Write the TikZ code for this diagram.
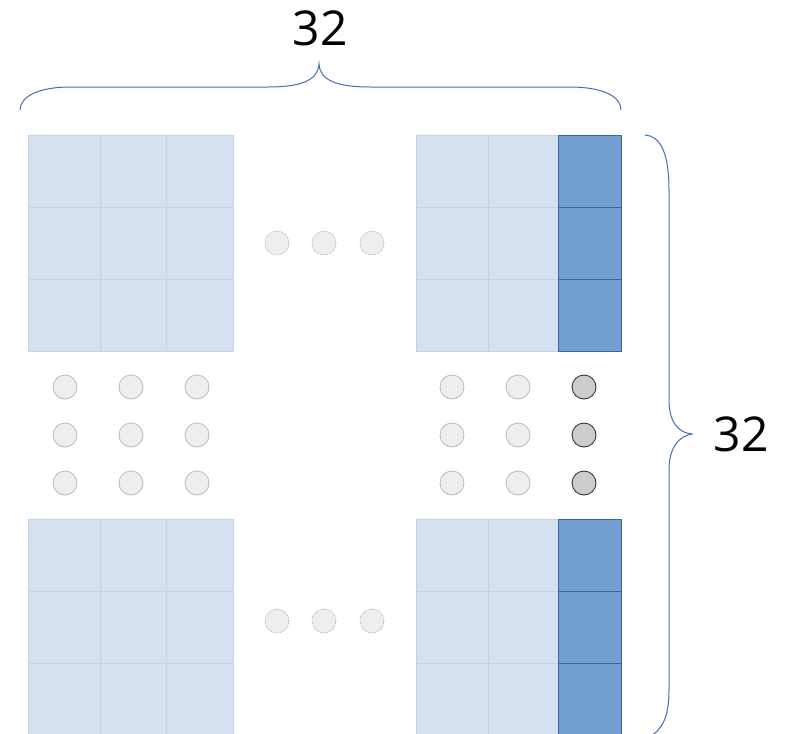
\documentclass[tikz,border=0pt]{standalone}
\usepackage{fontspec}
\setmainfont{Open Sans}
\usetikzlibrary{positioning}
\definecolor{cellfill}{RGB}{213,225,238}
\definecolor{cellline}{RGB}{198,211,228}
\definecolor{colfill}{RGB}{114,159,207}
\definecolor{colline}{RGB}{60,100,165}
\definecolor{bracecol}{RGB}{68,110,178}
\definecolor{dotfill}{RGB}{238,238,238}
\definecolor{dotline}{RGB}{185,185,185}
\definecolor{darkdot}{RGB}{204,204,204}
\tikzset{
  cell/.style={fill=cellfill, draw=cellline, line width=0.8pt},
  selcell/.style={fill=colfill, draw=colline, line width=0.8pt},
  thread/.style={circle, minimum size=24pt, inner sep=0pt, fill=dotfill, draw=dotline, line width=0.8pt},
  selthread/.style={thread, fill=darkdot, draw=black!85},
  skipdot/.style={thread, draw=gray!60, densely dotted},
  brace/.style={draw=bracecol, line width=1pt},
  count/.style={font=\fontsize{48}{56}\selectfont}
}

\begin{document}
\begin{tikzpicture}[x=1pt, y=-1pt]
  \useasboundingbox (0,0) rectangle (788,734);

  % Blocks of cells, last column selected
  \foreach \yy in {135,519} {
    \foreach \r in {0,1,2} {
      \foreach \xa/\xb in {28/100,100/166,166/233,416/488,488/558}
        \draw[cell] (\xa,\yy+72*\r) rectangle (\xb,\yy+72*\r+72);
      \draw[selcell] (558,\yy+72*\r) rectangle (621,\yy+72*\r+72);
    }
  }

  % Threads between the blocks
  \foreach \x [count=\i] in {65,131,197,452,518} {
    \foreach \y [count=\j] in {387,435,483}
      \node[thread] (t\i\j) at (\x,\y) {};
  }
  \foreach \y [count=\j] in {387,435,483}
    \node[selthread] (s\j) at (584,\y) {};

  % Skipped columns
  \foreach \x [count=\i] in {277,324,372} {
    \node[skipdot] (top\i) at (\x,243) {};
    \node[skipdot] (bot\i) at (\x,621) {};
  }

  % Braces and sizes
  \draw[brace] (20,110) .. controls (20,96) and (40,87) .. (70,87) -- (268,87)
    .. controls (302,87) and (318,80) .. (319,64)
    .. controls (320,80) and (336,87) .. (370,87) -- (570,87)
    .. controls (602,87) and (621,96) .. (621,110);
  \node[count] (width) at (320,28) {32};

  \draw[brace] (645,135) .. controls (660,136) and (669,152) .. (669,190) -- (669,400)
    .. controls (669,424) and (680,433) .. (692,434)
    .. controls (680,436) and (669,446) .. (669,470) -- (669,690)
    .. controls (669,718) and (662,730) .. (648,738);
  \node[count] (height) at (741,434) {32};
\end{tikzpicture}
\end{document}
